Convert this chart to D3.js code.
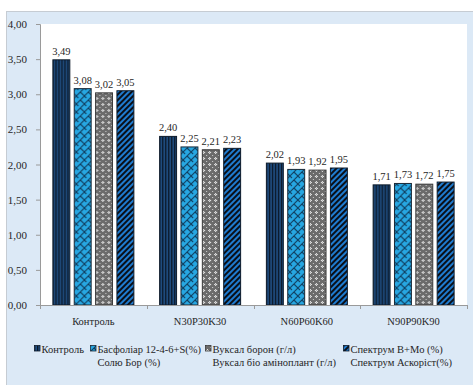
<!DOCTYPE html>
<html>
<head>
<meta charset="utf-8">
<script src="https://cdn.jsdelivr.net/npm/d3@7"></script>
<style>
  html, body { margin: 0; padding: 0; background: #ffffff; }
  svg { display: block; }
  text { font-family: "Liberation Serif", "Times New Roman", serif; fill: #262626; }
</style>
</head>
<body>
<svg id="chart" width="473" height="385"></svg>
<script>
// Categories (fertilizer backgrounds)
const categories = ["Контроль", "N30P30K30", "N60P60K60", "N90P90K90"];

// Series: foliar treatments (legend entries, two lines each)
const seriesNames = [
  ["Контроль"],
  ["Басфоліар 12-4-6+S(%)", "Солю Бор (%)"],
  ["Вуксал борон (г/л)", "Вуксал біо аміноплант (г/л)"],
  ["Спектрум B+Mo  (%)", "Спектрум Аскоріст(%)"]
];

// Values per series, in category order
const controlValues  = [3.49, 2.40, 2.02, 1.71];
const basfoliarValues = [3.08, 2.25, 1.93, 1.73];
const vuksalValues    = [3.02, 2.21, 1.92, 1.72];
const spektrumValues  = [3.05, 2.23, 1.95, 1.75];
const seriesValues = [controlValues, basfoliarValues, vuksalValues, spektrumValues];

// Y axis ticks
const yTicks = [0, 0.5, 1, 1.5, 2, 2.5, 3, 3.5, 4];

const fmt = v => d3.format(".2f")(v).replace(".", ",");

const svg = d3.select("#chart");
const defs = svg.append("defs");

// Fill patterns for the four series
function vertStripes(id) {
  const p = defs.append("pattern").attr("id", id).attr("patternUnits", "userSpaceOnUse")
    .attr("width", 3).attr("height", 3);
  p.append("rect").attr("width", 3).attr("height", 3).attr("fill", "#1f4d80");
  p.append("rect").attr("width", 1.3).attr("height", 3).attr("fill", "#0a1828");
}
function diagBrick(id) {
  const p = defs.append("pattern").attr("id", id).attr("patternUnits", "userSpaceOnUse")
    .attr("width", 8).attr("height", 8);
  p.append("rect").attr("width", 8).attr("height", 8).attr("fill", "#27a7e2");
  p.append("path").attr("d", "M0,8 L8,0 M-2,2 L2,-2 M6,10 L10,6 M4,4 L8,8 M0,0 L2,2")
    .attr("stroke", "#0f3d5e").attr("stroke-width", 1.1).attr("fill", "none");
}
function dotGrid(id) {
  const p = defs.append("pattern").attr("id", id).attr("patternUnits", "userSpaceOnUse")
    .attr("width", 6).attr("height", 6);
  p.append("rect").attr("width", 6).attr("height", 6).attr("fill", "#6b6b6b");
  [[2,1],[1,2],[3,2],[2,3]].forEach(([x, y]) =>
    p.append("rect").attr("x", x).attr("y", y).attr("width", 1).attr("height", 1).attr("fill", "#e8e8e8"));
  p.append("rect").attr("x", 2).attr("y", 2).attr("width", 1).attr("height", 1).attr("fill", "#a8a8a8");
  p.append("rect").attr("x", 5).attr("y", 5).attr("width", 1).attr("height", 1).attr("fill", "#d0d0d0");
}
function diagStripes(id) {
  const p = defs.append("pattern").attr("id", id).attr("patternUnits", "userSpaceOnUse")
    .attr("width", 4).attr("height", 4).attr("patternTransform", "rotate(45)");
  p.append("rect").attr("width", 4).attr("height", 4).attr("fill", "#1f7bcf");
  p.append("rect").attr("width", 2).attr("height", 4).attr("fill", "#0a0f18");
}
vertStripes("pat0"); diagBrick("pat1"); dotGrid("pat2"); diagStripes("pat3");
const fills = ["url(#pat0)", "url(#pat1)", "url(#pat2)", "url(#pat3)"];
const strokes = ["#0d1b2b", "#1a2a38", "#3a3a3a", "#0d1b2b"];

// Chart area frame
svg.append("rect").attr("x", 6.5).attr("y", 11.5).attr("width", 480).attr("height", 390)
  .attr("fill", "#dce9f6").attr("stroke", "#c6ccd3").attr("stroke-width", 1);

const plot = { left: 40, right: 467, top: 24, bottom: 305 };
svg.append("rect").attr("x", plot.left).attr("y", plot.top)
  .attr("width", plot.right - plot.left).attr("height", plot.bottom - plot.top)
  .attr("fill", "#ffffff");

const x0 = d3.scaleBand().domain(categories).range([plot.left, plot.right])
  .paddingInner(0.232).paddingOuter(0.116);
const x1 = d3.scaleBand().domain(d3.range(seriesValues.length)).range([0, x0.bandwidth()])
  .paddingInner(0.16).paddingOuter(0);
const y = d3.scaleLinear().domain([0, 4]).range([plot.bottom, plot.top]);

// Y axis
const yAxis = svg.append("g").attr("transform", `translate(${plot.left},0)`)
  .call(d3.axisLeft(y).tickValues(yTicks).tickFormat(fmt).tickSize(4).tickPadding(9));
yAxis.select(".domain").attr("stroke", "#9a9a9a");
yAxis.selectAll(".tick line").attr("stroke", "#9a9a9a");
yAxis.selectAll("text").attr("font-size", "11px").attr("fill", "#333")
  .attr("font-family", "Liberation Serif, serif");

// Bars
const groups = svg.append("g").selectAll("g").data(categories).join("g")
  .attr("transform", d => `translate(${x0(d)},0)`);
groups.selectAll("rect")
  .data((c, ci) => seriesValues.map((vals, si) => ({ si, v: vals[ci] })))
  .join("rect")
  .attr("x", d => x1(d.si) + 0.5)
  .attr("y", d => y(d.v))
  .attr("width", x1.bandwidth() - 1)
  .attr("height", d => y(0) - y(d.v))
  .attr("fill", d => fills[d.si])
  .attr("stroke", d => strokes[d.si])
  .attr("stroke-width", 1);
groups.selectAll("text.val")
  .data((c, ci) => seriesValues.map((vals, si) => ({ si, v: vals[ci] })))
  .join("text").attr("class", "val")
  .attr("x", d => x1(d.si) + x1.bandwidth() / 2)
  .attr("y", d => y(d.v) - 5)
  .attr("text-anchor", "middle")
  .attr("font-size", "10.5px")
  .text(d => fmt(d.v));

// X axis with ticks at category boundaries
const xAxisG = svg.append("g");
xAxisG.append("line").attr("x1", plot.left).attr("x2", plot.right)
  .attr("y1", plot.bottom + 0.5).attr("y2", plot.bottom + 0.5).attr("stroke", "#9a9a9a");
const boundaries = categories.map(c => x0(c) - x0.step() * x0.paddingInner() / 2)
  .concat([plot.right]);
xAxisG.selectAll("line.tk").data(boundaries).join("line").attr("class", "tk")
  .attr("x1", d => Math.round(d) + 0.5).attr("x2", d => Math.round(d) + 0.5)
  .attr("y1", plot.bottom).attr("y2", plot.bottom + 4).attr("stroke", "#9a9a9a");
xAxisG.selectAll("text").data(categories).join("text")
  .attr("x", d => x0(d) + x0.bandwidth() / 2)
  .attr("y", 325)
  .attr("text-anchor", "middle")
  .attr("font-size", "10.5px")
  .text(d => d);

// Legend
const legendX = [34, 90, 205, 343];
const legend = svg.append("g");
seriesNames.forEach((lines, i) => {
  const g = legend.append("g").attr("transform", `translate(${legendX[i]},0)`);
  g.append("rect").attr("x", 0.5).attr("y", 345.5).attr("width", 5.5).attr("height", 5.5)
    .attr("fill", fills[i]).attr("stroke", strokes[i]).attr("stroke-width", 0.8);
  lines.forEach((t, li) => {
    g.append("text").attr("x", 7.5).attr("y", 353 + li * 12.5)
      .attr("font-size", "10.5px").text(t);
  });
});
</script>
</body>
</html>
